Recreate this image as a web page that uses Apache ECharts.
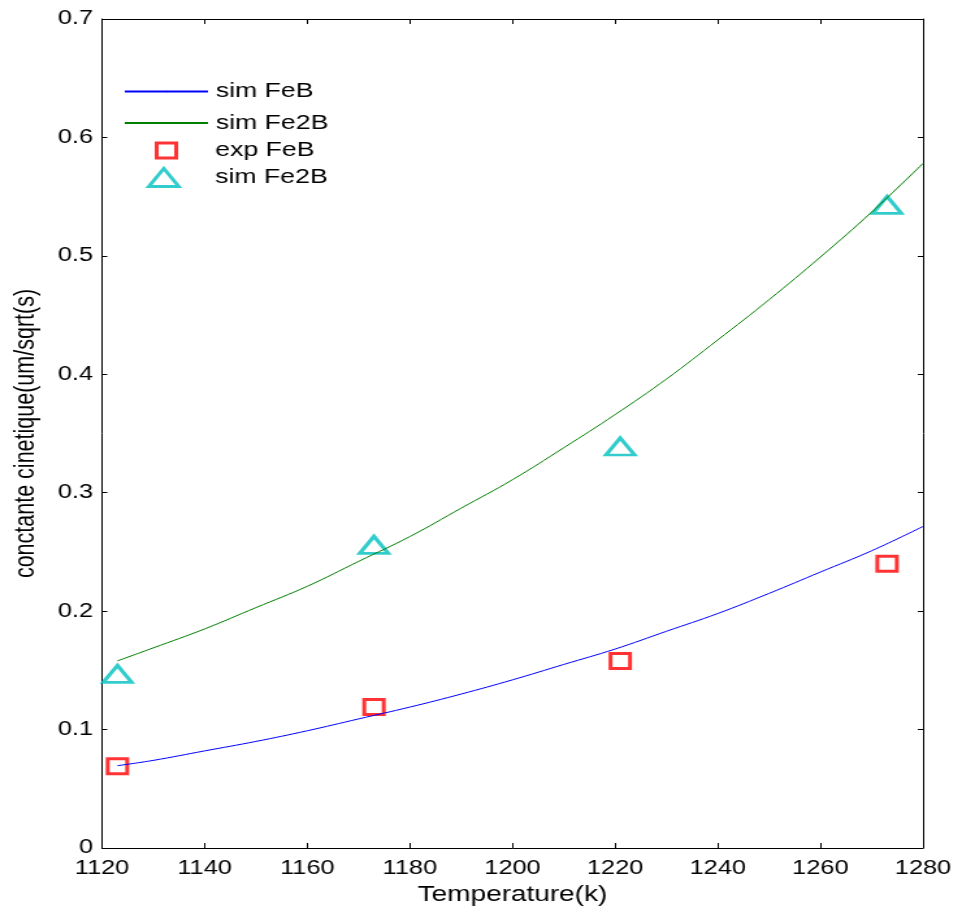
<!DOCTYPE html>
<html>
<head>
<meta charset="utf-8">
<title>constante cinetique</title>
<script src="https://cdn.jsdelivr.net/npm/echarts@6/dist/echarts.min.js"></script>
<style>
  html, body { margin: 0; padding: 0; background: #fff; overflow: hidden; }
  /* the reference picture is stretched sideways, so draw narrower and scale */
  #chart { width: 734px; height: 908px; transform: scaleX(1.3); transform-origin: 0 0; }
</style>
</head>
<body>
<div id="chart"></div>
<script>
// simulated curves
const simTemps = [1123, 1130, 1140, 1150, 1160, 1170, 1180, 1190, 1200, 1210, 1220, 1230, 1240, 1250, 1260, 1270, 1280];
const simFeB   = [0.0695, 0.074, 0.082, 0.090, 0.099, 0.109, 0.119, 0.130, 0.142, 0.155, 0.168, 0.183, 0.198, 0.215, 0.233, 0.251, 0.2715];
const simFe2B  = [0.158, 0.169, 0.185, 0.203, 0.221, 0.242, 0.263, 0.287, 0.311, 0.338, 0.366, 0.396, 0.429, 0.463, 0.499, 0.537, 0.578];

// measured points
const expTemps = [1123, 1173, 1221, 1273];
const expFeB   = [0.069, 0.119, 0.158, 0.240];
const expFe2B  = [0.147, 0.256, 0.339, 0.543];

const xMin = 1120, xMax = 1280, xStep = 20;
const yMin = 0, yMax = 0.7, yStep = 0.1;

const font = 'Liberation Sans, Arial, Helvetica, sans-serif';
const zip = (xs, ys) => xs.map((x, i) => [x, ys[i]]);

const chart = echarts.init(document.getElementById('chart'));

function axisBase(pos, showLabels) {
  return {
    type: 'value',
    position: pos,
    axisLine: { show: true, onZero: false, lineStyle: { color: '#000', width: 1 } },
    axisTick: { show: true, inside: true, length: pos === 'left' || pos === 'right' ? 4 : 5, lineStyle: { color: '#000' } },
    axisLabel: { show: showLabels, color: '#000', fontFamily: font, fontSize: 19.5 },
    splitLine: { show: false }
  };
}

const xBottom = Object.assign(axisBase('bottom', true), {
  min: xMin, max: xMax, interval: xStep,
  name: 'Temperature(k)', nameLocation: 'middle', nameGap: 35,
  nameTextStyle: { color: '#000', fontFamily: font, fontSize: 21.5 }
});
xBottom.axisLabel.margin = 11;
xBottom.axisLabel.formatter = v => String(v);
const xTop = Object.assign(axisBase('top', false), { min: xMin, max: xMax, interval: xStep });

const yLeft = Object.assign(axisBase('left', true), {
  min: yMin, max: yMax, interval: yStep,
  name: 'conctante cinetique(um/sqrt(s)', nameLocation: 'middle', nameGap: 47,
  nameTextStyle: { color: '#000', fontFamily: font, fontSize: 21.5 }
});
yLeft.axisLabel.margin = 7;
yLeft.axisLabel.formatter = v => (v === 0 ? '0' : v.toFixed(1));
const yRight = Object.assign(axisBase('right', false), { min: yMin, max: yMax, interval: yStep });

const legendText = { color: '#000', fontFamily: font, fontSize: 20.5, lineHeight: 20 };

chart.setOption({
  animation: false,
  backgroundColor: '#fff',
  grid: { left: 78.5, right: 24, top: 19, bottom: 60, containLabel: false, outerBoundsMode: 'none' },
  xAxis: [xBottom, xTop],
  yAxis: [yLeft, yRight],
  legend: [
    {
      // tiny item height so the line icon carries no visible dot
      data: ['sim FeB', 'sim Fe2B'], orient: 'vertical', left: 95, top: 81, padding: 0,
      itemWidth: 64, itemHeight: 2, itemGap: 10.5, selectedMode: false,
      textStyle: Object.assign({ padding: [0, 0, 0, 1] }, legendText)
    },
    {
      data: ['exp FeB'], orient: 'vertical', left: 119, top: 140, padding: 0,
      itemWidth: 15, itemHeight: 15, selectedMode: false,
      itemStyle: { borderWidth: 3 },
      textStyle: Object.assign({ padding: [0, 0, 0, 25] }, legendText)
    },
    {
      data: ['sim Fe2B pts'], orient: 'vertical', left: 113, top: 167, padding: 0,
      itemWidth: 23, itemHeight: 18, selectedMode: false,
      itemStyle: { borderWidth: 3 },
      formatter: () => 'sim Fe2B',
      textStyle: Object.assign({ padding: [0, 0, 0, 23] }, legendText)
    }
  ],
  series: [
    {
      name: 'sim FeB', type: 'line', data: zip(simTemps, simFeB), smooth: 0.4,
      symbol: 'none', color: '#0000ff', lineStyle: { color: '#0000ff', width: 1 }
    },
    {
      name: 'sim Fe2B', type: 'line', data: zip(simTemps, simFe2B), smooth: 0.4,
      symbol: 'none', color: '#008000', lineStyle: { color: '#008000', width: 1 }
    },
    {
      name: 'exp FeB', type: 'scatter', data: zip(expTemps, expFeB),
      symbol: 'rect', symbolSize: 15,
      itemStyle: { color: 'rgba(0,0,0,0)', borderColor: '#ff0000', borderWidth: 3 }
    },
    {
      name: 'sim Fe2B pts', type: 'scatter', data: zip(expTemps, expFe2B),
      symbol: 'triangle', symbolSize: [22, 17],
      itemStyle: { color: 'rgba(0,0,0,0)', borderColor: '#00bfbf', borderWidth: 3 }
    }
  ]
});
</script>
</body>
</html>
